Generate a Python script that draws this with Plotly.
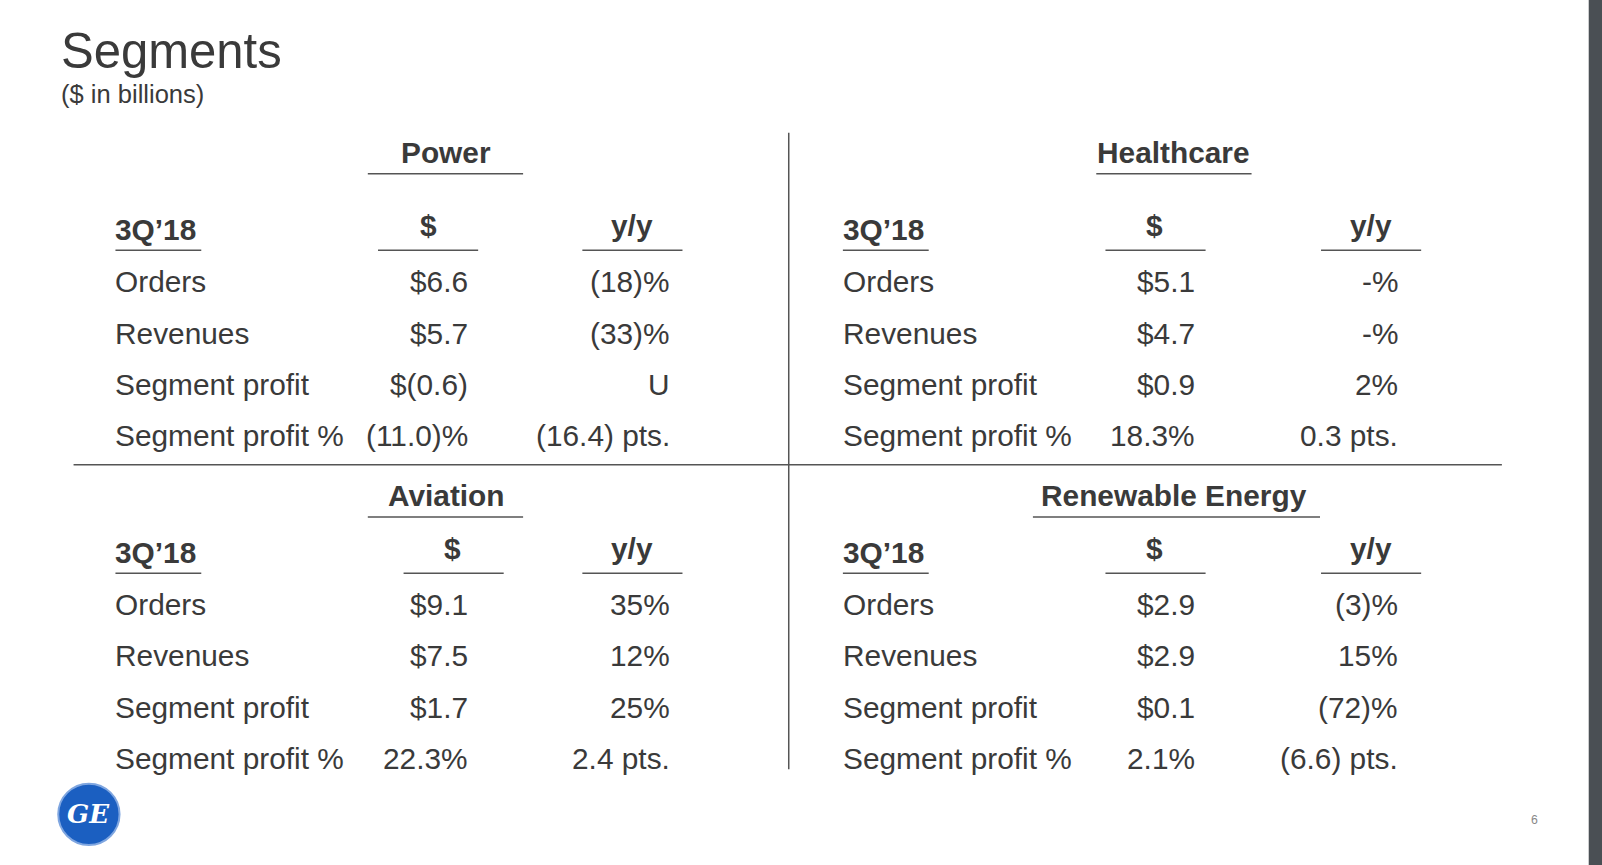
import plotly.graph_objects as go

S = 1602 / 1568.0
row_labels = ["Orders", "Revenues", "Segment profit", "Segment profit %"]
power_vals = ["$6.6", "$5.7", "$(0.6)", "(11.0)%"]
power_yy = ["(18)%", "(33)%", "U", "(16.4) pts."]
health_vals = ["$5.1", "$4.7", "$0.9", "18.3%"]
health_yy = ["-%", "-%", "2%", "0.3 pts."]
avi_vals = ["$9.1", "$7.5", "$1.7", "22.3%"]
avi_yy = ["35%", "12%", "25%", "2.4 pts."]
ren_vals = ["$2.9", "$2.9", "$0.1", "2.1%"]
ren_yy = ["(3)%", "15%", "(72)%", "(6.6) pts."]

C = "#3a3a3a"
FONT = "Arial, Liberation Sans, sans-serif"
ann, shapes = [], []

def t(x, y, s, size=29.2, anchor="left", bold=False, color=C):
    xo = {"left": -2, "right": 2, "center": 0}[anchor]
    ann.append(dict(x=x*S + xo, y=y*S, text=f"<b>{s}</b>" if bold else s, xref="x", yref="y",
                    showarrow=False, xanchor=anchor, yanchor="middle",
                    font=dict(size=size*S, color=color, family=FONT)))

def line(x0, x1, y0, y1, w=1.5, color="#555"):
    shapes.append(dict(type="line", x0=x0*S, x1=x1*S, y0=y0*S, y1=y1*S, xref="x", yref="y",
                       line=dict(color=color, width=w)))

def panel(dx, name, hc, hu, dc, du, vals, yy, top, gap, yo=0):
    t(hc + dx, top, name, anchor="center", bold=True)
    line(hu[0] + dx, hu[1] + dx, top + 21, top + 21)
    ch = top + gap
    t(113 + dx, ch, "3Q’18", bold=True)
    line(113 + dx, 197 + dx, ch + 20, ch + 20)
    t(dc + dx, ch - 4, "$", anchor="center", bold=True)
    line(du[0] + dx, du[1] + dx, ch + 20, ch + 20)
    t(619 + dx + yo, ch - 4, "y/y", anchor="center", bold=True)
    line(570 + dx + yo, 668 + dx + yo, ch + 20, ch + 20)
    for i, (lab, v, y) in enumerate(zip(row_labels, vals, yy)):
        ry = ch + 51 + i * 50
        t(113 + dx, ry, lab)
        t(458 + dx, ry, v, anchor="right")
        t(656 + dx, ry, y, anchor="right")

panel(0, "Power", 437, (360, 512), 419, (370, 468), power_vals, power_yy, 149, 76)
panel(712, "Healthcare", 437, (361, 513), 418, (370, 468), health_vals, health_yy, 149, 76, 11)
panel(0, "Aviation", 437, (360, 512), 443, (395, 493), avi_vals, avi_yy, 485, 56)
panel(712, "Renewable Energy", 437, (299, 580), 418, (370, 468), ren_vals, ren_yy, 485, 56, 11)

line(72, 1470, 455, 455)
line(772, 772, 130, 753)

t(60, 50, "Segments", size=48)
t(60, 92, "($ in billions)", size=25)
t(1502, 803, "6", size=12, anchor="center", color="#888")

shapes.append(dict(type="rect", x0=1555*S, x1=1602, y0=0, y1=865, xref="x", yref="y",
                   fillcolor="#4a4f54", line=dict(width=0)))
shapes.append(dict(type="circle", x0=57*S, x1=117*S, y0=767*S, y1=827*S, xref="x", yref="y",
                   fillcolor="#1b5fc1", line=dict(color="#7fa6e0", width=2)))
ann.append(dict(x=87*S, y=797*S, text="<i><b>GE</b></i>", xref="x", yref="y", showarrow=False,
                font=dict(size=26, color="white", family="DejaVu Serif")))

fig = go.Figure()
fig.update_layout(width=1602, height=865, margin=dict(l=0, r=0, t=0, b=0),
                  plot_bgcolor="white", paper_bgcolor="white", showlegend=False,
                  xaxis=dict(range=[0, 1602], visible=False, fixedrange=True),
                  yaxis=dict(range=[865, 0], visible=False, fixedrange=True),
                  annotations=ann, shapes=shapes)
fig.write_html("out.html", config={"displayModeBar": False},
               post_script="document.body.style.margin='0';document.body.style.overflow='hidden';")
